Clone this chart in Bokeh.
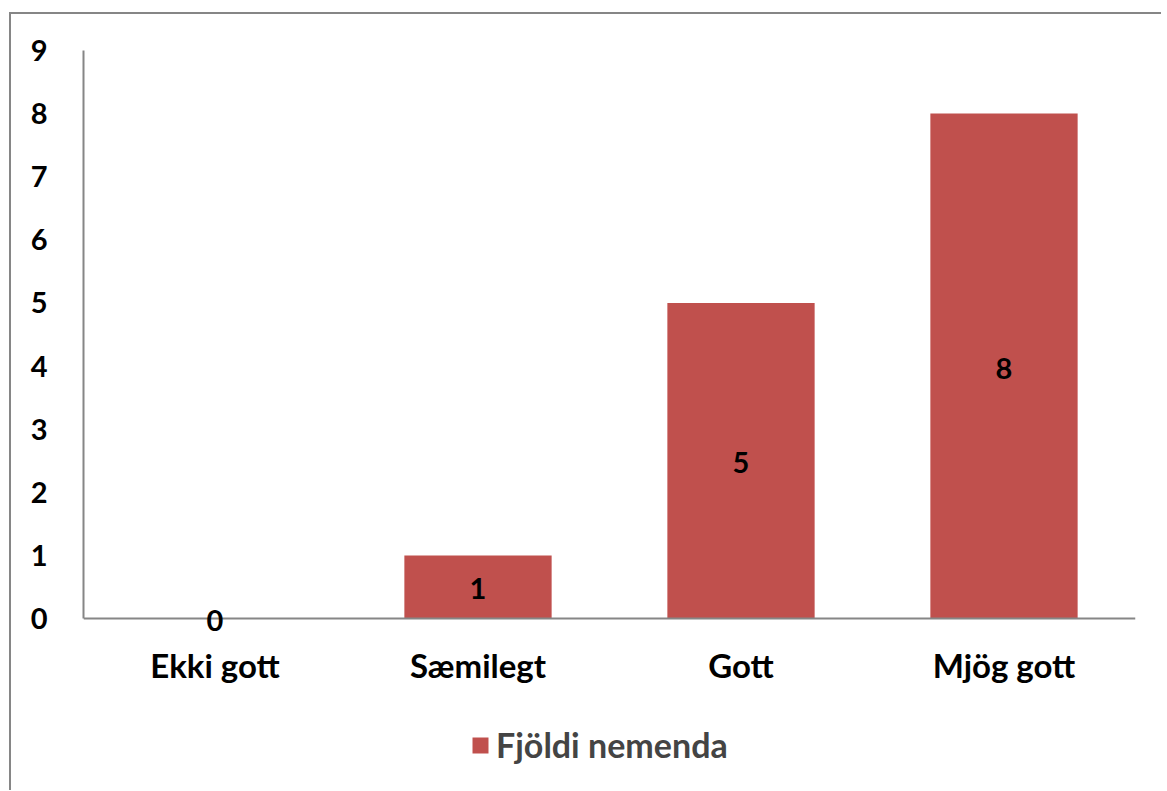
from bokeh.plotting import figure
from bokeh.models import ColumnDataSource, FixedTicker, Range1d, Legend, LegendItem, LabelSet, Span
from bokeh.core.properties import value
from bokeh.embed import file_html
from bokeh.resources import INLINE

categories = ["Ekki gott", "Sæmilegt", "Gott", "Mjög gott"]
values = [0, 1, 5, 8]
y_ticks = [0, 1, 2, 3, 4, 5, 6, 7, 8, 9]
series_name = "Fjöldi nemenda"

BAR = "#C0504D"
AXIS = "#868686"
FONT = "Lato"

src = ColumnDataSource(dict(cat=categories, val=values,
                            mid=[v / 2 for v in values],
                            zero=[0] * len(values),
                            txt=[str(v) for v in values]))

# frame extends below the value axis to host category labels and legend
p = figure(x_range=categories, y_range=Range1d(-2.408, 9),
           width=1150,
           min_border_left=72, min_border_top=36,
           min_border_right=26, min_border_bottom=20,
           frame_width=1052, frame_height=720,
           output_backend="svg", toolbar_location=None)
p.styles = {"margin-left": "9px", "margin-top": "12px",
            "border-left": "2px solid #868686", "border-top": "2px solid #868686"}
p.x_range.range_padding = 0
p.outline_line_color = None
p.grid.visible = False
p.background_fill_color = "white"
p.border_fill_color = "white"
p.xaxis.visible = False

r = p.vbar(x="cat", top="val", width=0.56, source=src, color=BAR, line_color=None)

p.yaxis.ticker = FixedTicker(ticks=y_ticks)
p.yaxis.bounds = (0, 9)
p.yaxis.axis_line_color = AXIS
p.yaxis.axis_line_width = 2
p.yaxis.major_tick_line_color = None
p.yaxis.minor_tick_line_color = None
p.yaxis.major_label_text_font = FONT
p.yaxis.major_label_text_color = "black"
p.yaxis.major_label_text_font_style = "bold"
p.yaxis.major_label_text_font_size = "29px"
p.yaxis.major_label_standoff = 30

p.add_layout(Span(location=0, dimension="width", line_color=AXIS, line_width=2))

cat_labels = LabelSet(x="cat", y="zero", text="cat", source=src, y_offset=-46,
                      text_align="center", text_baseline="middle",
                      text_font=value(FONT), text_font_style="bold",
                      text_font_size="33px", text_color="black")
p.add_layout(cat_labels)

labels = LabelSet(x="cat", y="mid", text="txt", source=src, y_offset=-2,
                  text_align="center", text_baseline="middle",
                  text_font=value(FONT), text_font_style="bold",
                  text_font_size="29px", text_color="black")
p.add_layout(labels)

legend = Legend(items=[LegendItem(label=series_name, renderers=[r])],
                location=(387, 5), orientation="horizontal",
                label_text_font=FONT, label_text_font_style="bold",
                label_text_font_size="34px", glyph_width=20, glyph_height=20,
                border_line_color=None, background_fill_alpha=0,
                padding=0, margin=0, label_standoff=6)
p.add_layout(legend, "center")

open("out.html", "w").write(file_html(p, INLINE))
